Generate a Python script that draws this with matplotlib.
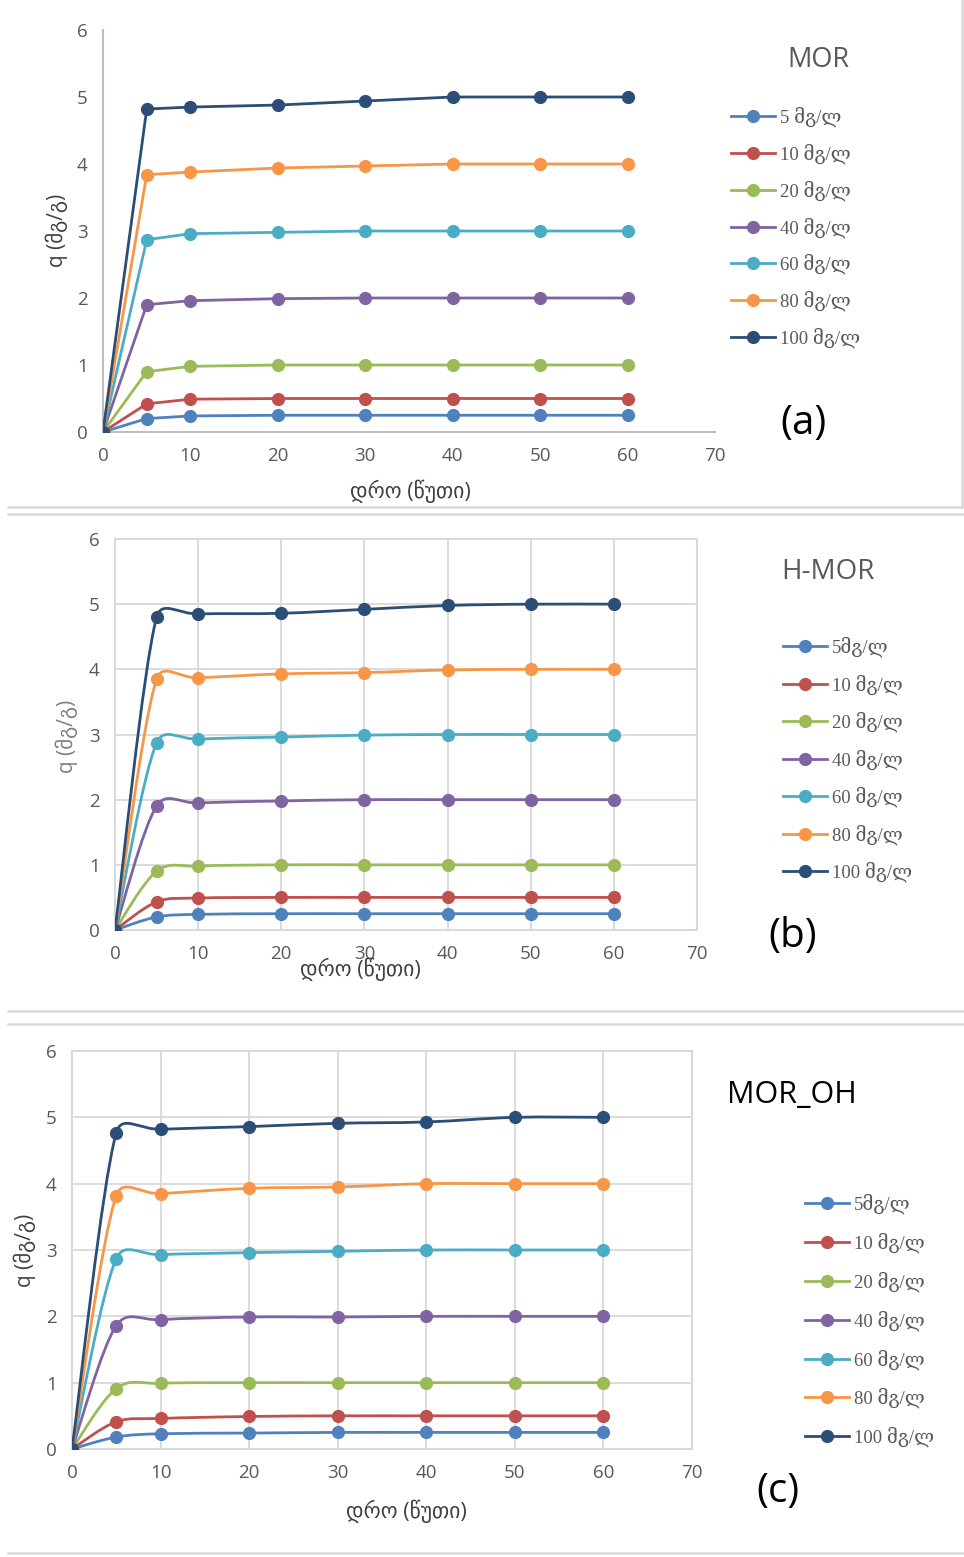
import numpy as np
import matplotlib
matplotlib.use("Agg")
import matplotlib.pyplot as plt
from matplotlib.path import Path
from matplotlib.patches import PathPatch
from matplotlib.lines import Line2D

# ---------------- data ----------------
time_min = [0, 5, 10, 20, 30, 40, 50, 60]
conc = ["5", "10", "20", "40", "60", "80", "100"]
colors = ["#4F81BD", "#C0504D", "#9BBB59", "#8064A2", "#4BACC6", "#F79646", "#2C4D75"]

q_mor = [
    [0, 0.20, 0.24, 0.25, 0.25, 0.25, 0.25, 0.25],
    [0, 0.42, 0.49, 0.50, 0.50, 0.50, 0.50, 0.50],
    [0, 0.90, 0.98, 1.00, 1.00, 1.00, 1.00, 1.00],
    [0, 1.90, 1.96, 1.99, 2.00, 2.00, 2.00, 2.00],
    [0, 2.87, 2.96, 2.98, 3.00, 3.00, 3.00, 3.00],
    [0, 3.84, 3.88, 3.94, 3.97, 4.00, 4.00, 4.00],
    [0, 4.82, 4.85, 4.88, 4.94, 5.00, 5.00, 5.00],
]
q_hmor = [
    [0, 0.20, 0.24, 0.25, 0.25, 0.25, 0.25, 0.25],
    [0, 0.43, 0.49, 0.50, 0.50, 0.50, 0.50, 0.50],
    [0, 0.90, 0.98, 1.00, 1.00, 1.00, 1.00, 1.00],
    [0, 1.90, 1.95, 1.98, 2.00, 2.00, 2.00, 2.00],
    [0, 2.87, 2.93, 2.96, 2.99, 3.00, 3.00, 3.00],
    [0, 3.85, 3.87, 3.93, 3.95, 3.99, 4.00, 4.00],
    [0, 4.80, 4.85, 4.86, 4.92, 4.98, 5.00, 5.00],
]
q_moroh = [
    [0, 0.18, 0.23, 0.24, 0.25, 0.25, 0.25, 0.25],
    [0, 0.41, 0.46, 0.49, 0.50, 0.50, 0.50, 0.50],
    [0, 0.91, 0.99, 1.00, 1.00, 1.00, 1.00, 1.00],
    [0, 1.86, 1.95, 1.99, 1.99, 2.00, 2.00, 2.00],
    [0, 2.87, 2.93, 2.96, 2.98, 3.00, 3.00, 3.00],
    [0, 3.82, 3.85, 3.93, 3.95, 4.00, 4.00, 4.00],
    [0, 4.77, 4.82, 4.86, 4.91, 4.93, 5.00, 5.00],
]
labels_a = [c + " მგ/ლ" for c in conc]
labels_bc = ["5მგ/ლ"] + [c + " მგ/ლ" for c in conc[1:]]

xticks = [0, 10, 20, 30, 40, 50, 60, 70]
yticks = [0, 1, 2, 3, 4, 5, 6]
xlabel = "დრო (წუთი)"
ylabel = "q (მგ/გ)"

# ---------------- figure ----------------
W, H = 964, 1557
fig = plt.figure(figsize=(W / 100, H / 100), dpi=100)
fig.patch.set_facecolor("white")

NUM_FONT = ["Open Sans", "DejaVu Sans"]
LEG_FONT = ["Liberation Serif", "DejaVu Serif"]
TICK_C = "#595959"
GRID_C = "#d9d9d9"


def fx(px):
    return px / W


def fy(py):
    return 1 - py / H


def make_axes(l, r, t, b):
    return fig.add_axes([fx(l), fy(b), fx(r) - fx(l), (b - t) / H])


def smooth_line(ax, xs, ys, color, f=1 / 6, clamp=0.45):
    pts = ax.transData.transform(np.column_stack([xs, ys]))
    n = len(pts)
    verts = [pts[0]]
    codes = [Path.MOVETO]
    for i in range(n - 1):
        p0 = pts[i - 1] if i > 0 else pts[i]
        p1 = pts[i]
        p2 = pts[i + 1]
        p3 = pts[i + 2] if i + 2 < n else pts[i + 1]
        seg = np.hypot(*(p2 - p1))
        t1 = (p2 - p0) * f
        t2 = (p3 - p1) * f
        l1 = np.hypot(*t1)
        l2 = np.hypot(*t2)
        if l1 > clamp * seg and l1 > 0:
            t1 = t1 * clamp * seg / l1
        if l2 > clamp * seg and l2 > 0:
            t2 = t2 * clamp * seg / l2
        verts += [p1 + t1, p2 - t2, p2]
        codes += [Path.CURVE4] * 3
    dverts = ax.transData.inverted().transform(np.array(verts))
    ax.add_patch(PathPatch(Path(dverts, codes), fill=False, edgecolor=color,
                           lw=2.0, capstyle="round", joinstyle="round", zorder=3))


def setup(ax, grid):
    ax.set_xlim(0, 70)
    ax.set_ylim(0, 6)
    ax.set_xticks(xticks)
    ax.set_yticks(yticks)
    ax.tick_params(length=0, colors=TICK_C, labelsize=13.5, pad=11)
    for lab in ax.get_xticklabels() + ax.get_yticklabels():
        lab.set_fontfamily(NUM_FONT)
    if grid:
        ax.grid(True, color=GRID_C, lw=1.3)
        ax.set_axisbelow(True)
        for s in ax.spines.values():
            s.set_color(GRID_C)
            s.set_linewidth(1.5)
    else:
        ax.spines["top"].set_visible(False)
        ax.spines["right"].set_visible(False)
        for s in ("left", "bottom"):
            ax.spines[s].set_color("#bfbfbf")
            ax.spines[s].set_linewidth(1.5)


def draw_series(ax, data, smooth):
    for ys, c in zip(data, colors):
        if smooth:
            smooth_line(ax, time_min, ys, c)
        else:
            ax.plot(time_min, ys, color=c, lw=2.0, zorder=3)
        ax.plot(time_min, ys, linestyle="none", marker="o", ms=8.5, color=c, zorder=4)


def legend(ax, labels, x, y, spacing):
    handles = [Line2D([], [], color=c, lw=2.0, marker="o", ms=8.5) for c in colors]
    leg = ax.legend(handles, labels, loc="upper left", bbox_to_anchor=(fx(x), fy(y)),
                    bbox_transform=fig.transFigure, frameon=False, handlelength=2.35,
                    handletextpad=0.25, labelspacing=spacing, borderpad=0, borderaxespad=0,
                    prop={"family": LEG_FONT, "size": 13.5})
    for t in leg.get_texts():
        t.set_color(TICK_C)


# ---------- panel (a) ----------
ax_a = make_axes(103, 715, 30, 432)
setup(ax_a, grid=False)
draw_series(ax_a, q_mor, smooth=False)
fig.text(fx(410), fy(491), xlabel, ha="center", va="center", fontsize=15.5,
         color="#404040", family=NUM_FONT)
fig.text(fx(57), fy(230), ylabel, ha="center", va="center", rotation=90, fontsize=15,
         color="#404040", family=NUM_FONT)
fig.text(fx(818), fy(60), "MOR", ha="center", va="center", fontsize=19.5,
         color=TICK_C, family=NUM_FONT)
legend(ax_a, labels_a, 731, 107, 0.87)
fig.text(fx(804), fy(424), "(a)", ha="center", va="center", fontsize=29,
         color="black", family=NUM_FONT)

# ---------- panel (b) ----------
ax_b = make_axes(115, 697, 539, 930)
setup(ax_b, grid=True)
draw_series(ax_b, q_hmor, smooth=True)
fig.text(fx(360), fy(969), xlabel, ha="center", va="center", fontsize=15.5,
         color="#404040", family=NUM_FONT)
fig.text(fx(67), fy(736), ylabel, ha="center", va="center", rotation=90, fontsize=15,
         color="#7f7f7f", family=NUM_FONT)
fig.text(fx(828), fy(572), "H-MOR", ha="center", va="center", fontsize=20,
         color=TICK_C, family=NUM_FONT)
legend(ax_b, labels_bc, 783, 637, 0.91)
fig.text(fx(793), fy(937), "(b)", ha="center", va="center", fontsize=29,
         color="black", family=NUM_FONT)

# ---------- panel (c) ----------
ax_c = make_axes(72, 692, 1051, 1449)
setup(ax_c, grid=True)
draw_series(ax_c, q_moroh, smooth=True)
fig.text(fx(406), fy(1511), xlabel, ha="center", va="center", fontsize=15.5,
         color="#404040", family=NUM_FONT)
fig.text(fx(25), fy(1250), ylabel, ha="center", va="center", rotation=90, fontsize=15,
         color="#404040", family=NUM_FONT)
fig.text(fx(792), fy(1095), "MOR_OH", ha="center", va="center", fontsize=22,
         color="black", family=NUM_FONT)
legend(ax_c, labels_bc, 805, 1194, 0.98)
fig.text(fx(778), fy(1492), "(c)", ha="center", va="center", fontsize=29,
         color="black", family=NUM_FONT)

# ---------- panel separators ----------
for (x0, x1, y0, y1) in [(8, 962, 507, 507), (962, 962, 0, 507),
                         (8, 964, 514, 514), (8, 964, 1011, 1011),
                         (8, 964, 1024, 1024), (8, 964, 1553, 1553)]:
    fig.add_artist(Line2D([fx(x0), fx(x1)], [fy(y0), fy(y1)], color="#d9d9d9", lw=1.8,
                          transform=fig.transFigure))

fig.savefig("out.png", dpi=100)
